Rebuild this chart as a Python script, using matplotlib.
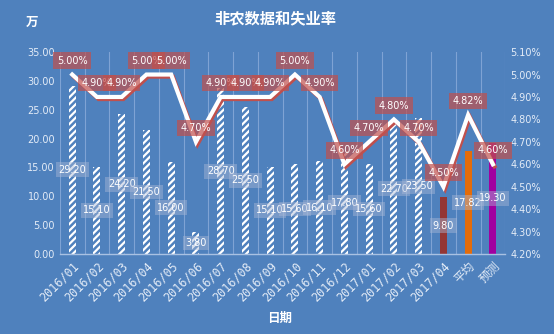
import matplotlib
matplotlib.use('Agg')
import matplotlib.pyplot as plt
import matplotlib.patheffects as pe
import numpy as np

plt.rcParams['font.family'] = ['DejaVu Sans', 'Noto Sans CJK SC']
plt.rcParams['hatch.linewidth'] = 1.6

# data
months = ['2016/01', '2016/02', '2016/03', '2016/04', '2016/05', '2016/06',
          '2016/07', '2016/08', '2016/09', '2016/10', '2016/11', '2016/12',
          '2017/01', '2017/02', '2017/03', '2017/04', '平均', '预测']
payrolls = [29.2, 15.1, 24.2, 21.5, 16.0, 3.8, 28.7, 25.5, 15.1, 15.6, 16.1,
            17.8, 15.6, 22.7, 23.5, 9.8, 17.82, 19.3]
unemployment = [5.00, 4.90, 4.90, 5.00, 5.00, 4.70, 4.90, 4.90, 4.90, 5.00,
                4.90, 4.60, 4.70, 4.80, 4.70, 4.50, 4.82, 4.60]

bg = '#4f81bd'
grid_col = '#7fa3d4'
tick_col = '#e4ecf7'

fig = plt.figure(figsize=(5.54, 3.34), dpi=100, facecolor=bg)
ax = fig.add_axes([0.108, 0.2395, 0.804, 0.6045])
ax.set_facecolor(bg)

x = np.arange(len(months))

# bars: hatched for the monthly data, solid for the last three
for i, v in enumerate(payrolls):
    if i < 15:
        ax.bar(x[i], v, width=0.28, facecolor=bg, edgecolor='white',
               hatch='/////', linewidth=0, zorder=2)
    else:
        col = ['#943634', '#e46c0a', '#a000a0'][i - 15]
        ax.bar(x[i], v, width=0.28, color=col, linewidth=0, zorder=2)
    lab = '%.2f' % v
    if i == 16:
        lab = '%.2f' % v
    ax.text(x[i], v / 2, lab, ha='center', va='center', color='white',
            fontsize=7, zorder=3,
            bbox=dict(boxstyle='square,pad=0.25', fc='#a9b8d6', ec='none', alpha=0.45))

ax.set_xlim(-0.5, len(months) - 0.5)
ax.set_ylim(0, 35)
ax.set_yticks(np.arange(0, 36, 5))
ax.set_yticklabels(['%.2f' % t for t in np.arange(0, 36, 5)])

for b in np.arange(-0.5, len(months), 1.0):
    ax.axvline(b, color=grid_col, lw=0.8, zorder=1)

for s in ['top', 'right', 'left']:
    ax.spines[s].set_visible(False)
ax.spines['bottom'].set_color('#a9c1e2')
ax.spines['bottom'].set_linewidth(1)

ax.set_xticks(x)
ax.set_xticklabels(months, rotation=45, ha='right', rotation_mode='anchor',
                   fontsize=8.5, color=tick_col,
                   family=['DejaVu Sans Mono', 'Noto Sans CJK SC'])
ax.tick_params(axis='x', length=0, pad=4)
ax.tick_params(axis='y', length=0, colors=tick_col, labelsize=7)

# unemployment line on the right axis
ax2 = ax.twinx()
ax2.set_ylim(4.2, 5.1)
ax2.set_yticks(np.arange(4.2, 5.11, 0.1))
ax2.set_yticklabels(['%.2f%%' % t for t in np.arange(4.2, 5.11, 0.1)])
ax2.tick_params(axis='y', length=0, colors=tick_col, labelsize=7)
for s in ax2.spines.values():
    s.set_visible(False)
ax2.plot(x, unemployment, color='white', lw=3, solid_joinstyle='miter', zorder=4,
         path_effects=[pe.SimpleLineShadow(offset=(1.2, -1.5), shadow_color='#c0504d',
                                           alpha=1.0),
                       pe.Normal()])

for i, v in enumerate(unemployment):
    ax2.annotate('%.2f%%' % v, (x[i], v), xytext=(0, 10), textcoords='offset points',
                 ha='center', va='center', color='white', fontsize=7, zorder=5,
                 bbox=dict(boxstyle='square,pad=0.35', fc='#c0504d', ec='none', alpha=0.7))

fig.text(0.497, 0.945, '非农数据和失业率', ha='center', va='center', color='white',
         fontsize=11, fontweight='bold', family=['Noto Sans CJK SC'])
fig.text(0.058, 0.932, '万', ha='center', va='center', color='white',
         fontsize=9, fontweight='bold', family=['Noto Sans CJK SC'])
fig.text(0.505, 0.048, '日期', ha='center', va='center', color='white',
         fontsize=9, fontweight='bold', family=['Noto Sans CJK SC'])

fig.savefig('out.png', dpi=100, facecolor=bg)
